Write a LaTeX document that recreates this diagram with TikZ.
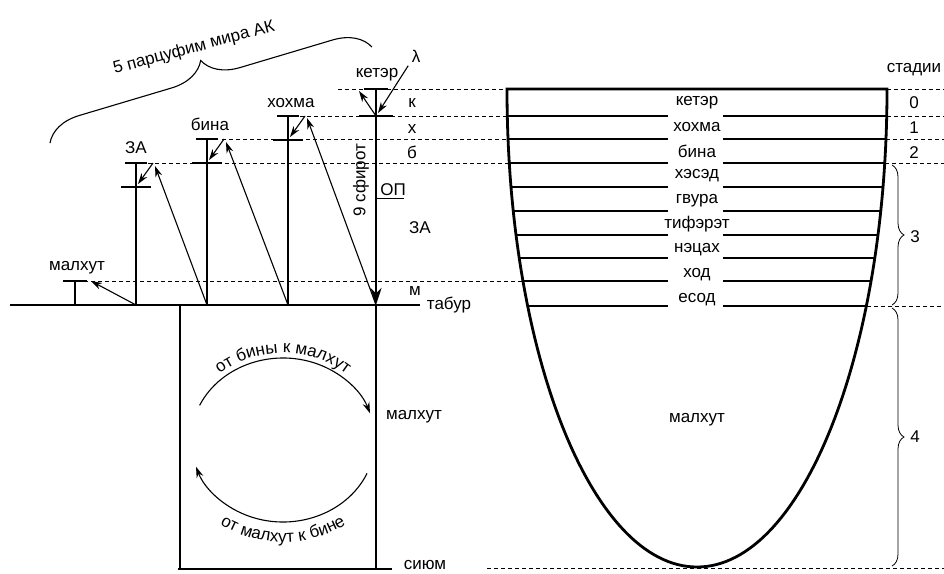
\documentclass[tikz,border=0pt]{standalone}
\usepackage{fontspec}
\setmainfont{Liberation Sans}
\usepackage{tikz}
\usetikzlibrary{arrows.meta, positioning, calc, decorations.pathreplacing, decorations.text}
\newcommand{\lblfont}{\fontsize{17}{20}\selectfont}

\begin{document}
\begin{tikzpicture}[
    x=1pt, y=-1pt,
    font=\lblfont,
    thickline/.style={line width=2.6pt},
    sefline/.style={line width=1.8pt},
    lvldash/.style={line width=0.8pt, dash pattern=on 4pt off 3pt},
    arr/.style={-{Stealth[length=11pt, width=7pt]}, line width=1.1pt},
    lbl/.style={anchor=base, inner sep=0pt}
  ]
  \useasboundingbox (0,0) rectangle (944,573);

  % levels
  \draw[lvldash] (338,89) -- (507,89) (887,89) -- (944,89);
  \draw[lvldash] (300,116) -- (507,116) (887,116) -- (944,116);
  \draw[lvldash] (222,139) -- (508,139) (886,139) -- (944,139);
  \draw[lvldash] (148,163) -- (509,163) (885,163) -- (944,163);
  \draw[lvldash] (84,281) -- (522,281);
  \draw[lvldash] (867,306) -- (944,306);
  \draw[lvldash] (487,568) -- (944,568);

  % vessel
  \draw[line width=2.8pt] (507,89) -- (887,89)
    arc[start angle=0, end angle=-180, x radius=190pt, y radius=478pt] -- cycle;
  \foreach \y in {116,139,163,187,211,235,258,281,306}{
    \pgfmathsetmacro\dx{190*sqrt(1-((\y-89)/478)^2)}
    \draw[sefline] (697-\dx,\y) -- (668,\y) (723,\y) -- (697+\dx,\y);
  }
  \foreach \s/\b [count=\i] in {кетэр/105, хохма/131, бина/157, хэсэд/178,
      гвура/203, тифэрэт/228, нэцах/252, ход/277, есод/302}
    \node[lbl] (sef\i) at (697,\b) {\s};
  \node[lbl] (vmal) at (697,422) {малхут};

  % stages
  \node[lbl] (stages) at (914,72) {стадии};
  \foreach \d/\b in {0/108, 1/133, 2/158}
    \node[lbl] (st\d) at (914,\b) {\d};
  \draw[decorate, decoration={brace, amplitude=12pt}, line width=0.8pt] (892,165) -- (892,305);
  \draw[decorate, decoration={brace, amplitude=12pt}, line width=0.8pt] (892,308) -- (892,566);
  \node (st3) at (915,237) {3};
  \node (st4) at (915,437) {4};

  % tabur and the square
  \draw[thickline] (10,305) -- (420,305);
  \draw[thickline] (180,305) -- (180,569) (376,305) -- (376,569) (178,569) -- (392,569);
  \node[lbl] (tabur) at (449,309) {табур};
  \node[lbl] (sium) at (425,569) {сиюм};
  \node[lbl] (rmal) at (414,419) {малхут};

  % parzufim
  \foreach \n/\x/\t in {za/136/163, bina/207/139, hohma/288/116}{
    \coordinate (\n-top) at (\x,\t);
    \coordinate (\n-bar) at (\x,\t+24);
    \coordinate (\n-base) at (\x,305);
    \coordinate (\n-tip) at (\x+17,\t);
    \draw[thickline] (\n-top) -- (\n-base);
    \draw[thickline] ($(\n-top)+(-11,0)$) -- ++(22,0);
    \draw[thickline] ($(\n-bar)+(-15,0)$) -- ++(30,0);
    \draw[arr] (\n-tip) -- ($(\n-bar)+(2,-3)$);
  }
  \node[lbl] (za-lbl) at (136,153) {ЗА};
  \node[lbl] (bina-lbl) at (210,130) {бина};
  \node[lbl] (hohma-lbl) at (291,107) {хохма};

  \coordinate (mal-top) at (75,281);
  \coordinate (mal-base) at (75,305);
  \draw[thickline] (mal-top) -- (mal-base);
  \draw[thickline] ($(mal-top)+(-12,0)$) -- ++(24,0);
  \node[lbl] (mal-lbl) at (77,270) {малхут};

  \coordinate (keter-top) at (376,89);
  \coordinate (keter-bar) at (376,116);
  \coordinate (keter-base) at (376,305);
  \draw[thickline, -{Stealth[length=17pt, width=11pt]}] (keter-top) -- (keter-base);
  \draw[thickline] ($(keter-top)+(-12,0)$) -- ++(24,0);
  \draw[thickline] ($(keter-bar)+(-17,0)$) -- ++(34,0);
  \node[lbl] (keter-lbl) at (377,77) {кетэр};
  \node (lam) at (416,56) {λ};
  \draw[arr] (lam.south west) -- ($(keter-bar)+(2,-3)$);
  \draw[arr] (keter-bar) -- ($(keter-top)+(-17,2)$);

  \draw[arr] (za-base) -- ($(mal-top)+(16,0)$);
  \draw[arr] (bina-base) -- ($(za-tip)+(2,3)$);
  \draw[arr] (hohma-base) -- ($(bina-tip)+(2,3)$);
  \draw[arr] (keter-base) -- ($(hohma-tip)+(2,2)$);

  % keter column labels
  \node[lbl] (k) at (412,107) {к};
  \node[lbl] (h) at (412,133) {х};
  \node[lbl] (b) at (412,158) {б};
  \node[lbl] (za-r) at (420,233) {ЗА};
  \node[lbl] (m) at (415,295) {м};
  \node[lbl] (op) at (393,195) {ОП};
  \coordinate (op-pt) at (376,198);
  \draw[line width=0.8pt] (op-pt) -- ++(28,0);
  \node[rotate=90] (sfirot) at (361,180) {9 сфирот};

  % brace over parzufim
  \draw[decorate, decoration={brace, amplitude=36pt}, line width=1.1pt] (50,143) -- (372,47);
  \node[rotate=15] (ak) at (194,48) {5 парцуфим мира АК};

  % circulation
  \coordinate (cyc) at (283,440);
  \draw[arr] ($(cyc)+(155:92pt and 82pt)$)
    arc[start angle=155, end angle=19, x radius=92pt, y radius=82pt];
  \draw[arr] ($(cyc)+(-24:92pt and 82pt)$)
    arc[start angle=-24, end angle=-161, x radius=92pt, y radius=82pt];
  \path[decorate, decoration={text along path, text align=center,
      text={|\lblfont|от бины к малхут}}]
    ($(cyc)+(150:97pt and 87pt)$)
    arc[start angle=150, end angle=30, x radius=97pt, y radius=87pt];
  \path[decorate, decoration={text along path, text align=center,
      text={|\lblfont|от малхут к бине}}]
    ($(cyc)+(205:112pt and 102pt)$)
    arc[start angle=205, end angle=335, x radius=112pt, y radius=102pt];
\end{tikzpicture}
\end{document}
